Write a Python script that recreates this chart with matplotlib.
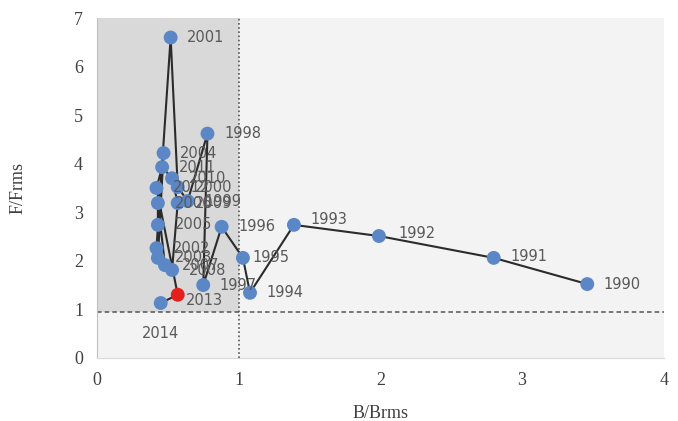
import matplotlib
matplotlib.use("Agg")
import matplotlib.pyplot as plt
from matplotlib.patches import Rectangle

# ---- data ----
years = list(range(1990, 2015))
b_ratio = [3.46, 2.80, 1.99, 1.39, 1.08, 1.03, 0.88, 0.75, 0.78, 0.64,
           0.57, 0.52, 0.42, 0.43, 0.47, 0.43, 0.43, 0.48, 0.53, 0.57,
           0.53, 0.46, 0.42, 0.57, 0.45]
f_ratio = [1.52, 2.06, 2.51, 2.74, 1.34, 2.06, 2.70, 1.50, 4.62, 3.23,
           3.52, 6.60, 2.26, 2.06, 4.22, 2.74, 3.19, 1.91, 1.81, 3.19,
           3.70, 3.93, 3.50, 1.30, 1.13]
highlight_year = 2013
x_ticks = [0, 1, 2, 3, 4]
y_ticks = [0, 1, 2, 3, 4, 5, 6, 7]

# ---- style ----
label_offsets = {2013: (6, -4), 2014: (0, -22), 1995: (7, 0), 1993: (12, 4),
                 1992: (14, 2), 1991: (12, 1)}
default_offset = (12, 0)

fig = plt.figure(figsize=(6.78, 4.21), dpi=100)
ax = fig.add_axes([0.143, 0.150, 0.836, 0.807])
ax.set_xlim(0, 4)
ax.set_ylim(0, 7)

ax.set_facecolor("#f3f3f3")
ax.add_patch(Rectangle((0, 0.95), 1, 7 - 0.95, facecolor="#d9d9d9",
                       edgecolor="none", zorder=0))
ax.axhline(0.95, color="#555555", lw=1.1, ls=(0, (3, 2)), zorder=1)
ax.axvline(1.0, color="#555555", lw=1.2, ls=(0, (1, 1.5)), zorder=1)

ax.plot(b_ratio, f_ratio, color="#2b2b2b", lw=1.5, zorder=2)
colors = ["#e3201b" if y == highlight_year else "#5b87c6" for y in years]
ax.scatter(b_ratio, f_ratio, s=100, c=colors, zorder=3, linewidths=0)

for yr, xv, yv in zip(years, b_ratio, f_ratio):
    dx, dy = label_offsets.get(yr, default_offset)
    ha = "center" if yr == 2014 else "left"
    ax.annotate(str(yr), (xv, yv), xytext=(dx, dy), textcoords="offset points",
                ha=ha, va="center", fontsize=10.5, color="#595959",
                family="DejaVu Sans", zorder=4)

for s in ["top", "right"]:
    ax.spines[s].set_visible(False)
ax.spines["left"].set_color("#bfbfbf")
ax.spines["bottom"].set_color("#d9d9d9")

ax.set_xticks(x_ticks)
ax.set_yticks(y_ticks)
ax.tick_params(length=0, labelsize=13, colors="#404040", pad=10)
for lab in ax.get_xticklabels() + ax.get_yticklabels():
    lab.set_family("Liberation Serif")
ax.set_xlabel("B/Brms", family="Liberation Serif", fontsize=13, color="#404040", labelpad=12)
ax.set_ylabel("F/Frms", family="Liberation Serif", fontsize=13, color="#404040", labelpad=34)

fig.savefig("out.png", dpi=100, facecolor="white")
